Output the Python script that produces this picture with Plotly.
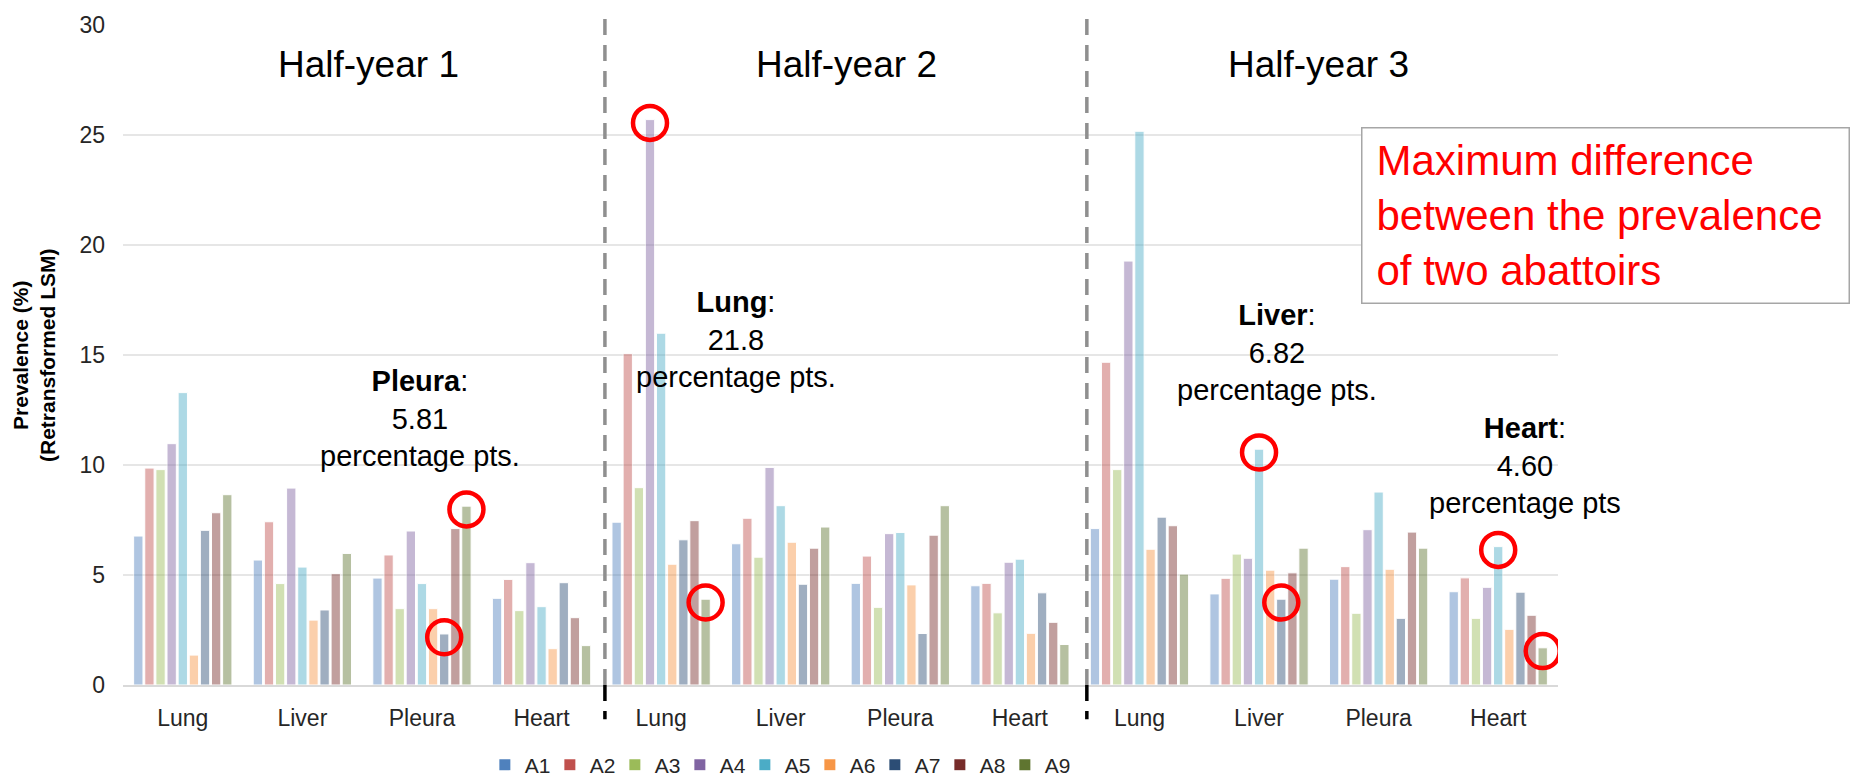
import plotly.graph_objects as go

# ---- data -------------------------------------------------------------
organs = ["Lung", "Liver", "Pleura", "Heart"]
half_years = ["Half-year 1", "Half-year 2", "Half-year 3"]
abattoirs = ["A1", "A2", "A3", "A4", "A5", "A6", "A7", "A8", "A9"]

# Prevalence (%) per abattoir; order: HY1 Lung, Liver, Pleura, Heart, HY2 ..., HY3 ...
A1 = [6.77, 5.68, 4.86, 3.94, 7.40, 6.42, 4.62, 4.51, 7.11, 4.14, 4.81, 4.24]
A2 = [9.86, 7.42, 5.91, 4.80, 15.06, 7.58, 5.86, 4.62, 14.67, 4.85, 5.38, 4.87]
A3 = [9.79, 4.61, 3.47, 3.38, 8.97, 5.81, 3.53, 3.28, 9.79, 5.95, 3.26, 3.03]
A4 = [10.97, 8.95, 7.00, 5.56, 25.70, 9.89, 6.88, 5.58, 19.27, 5.76, 7.06, 4.44]
A5 = [13.29, 5.36, 4.61, 3.56, 15.99, 8.15, 6.93, 5.72, 25.17, 10.72, 8.77, 6.29]
A6 = [1.36, 2.95, 3.47, 1.65, 5.49, 6.49, 4.55, 2.35, 6.17, 5.22, 5.26, 2.53]
A7 = [7.03, 3.41, 2.32, 4.65, 6.60, 4.58, 2.34, 4.19, 7.63, 3.90, 3.03, 4.22]
A8 = [7.83, 5.06, 7.11, 3.06, 7.47, 6.22, 6.81, 2.85, 7.24, 5.10, 6.95, 3.17]
A9 = [8.65, 5.98, 8.13, 1.79, 3.90, 7.18, 8.15, 1.84, 5.04, 6.22, 6.22, 1.69]
series = [A1, A2, A3, A4, A5, A6, A7, A8, A9]

# groups whose max-min spread is highlighted, with label placement
highlight_groups = [2, 4, 9, 11]
highlight_labels = ["percentage pts.", "percentage pts.", "percentage pts.", "percentage pts"]
highlight_pos = [(1.98, 12.1), (4.63, 15.7), (9.15, 15.1), (11.22, 10.0)]

colors = ["#4F81BD", "#C0504D", "#9BBB59", "#8064A2", "#4BACC6",
          "#F79646", "#2C4D75", "#772C2A", "#5F7530"]

FONT = "Liberation Sans, Arial, sans-serif"
n_cat = len(half_years) * len(organs)
slot = 0.093
bar_w = 0.078

fig = go.Figure()

def xpos(c, k):
    return c + (k - (len(abattoirs) - 1) / 2) * slot

for k, (name, vals) in enumerate(zip(abattoirs, series)):
    fig.add_trace(go.Bar(
        x=[xpos(c, k) for c in range(n_cat)], y=vals, width=bar_w,
        marker=dict(color=colors[k], opacity=0.45,
                    line=dict(color="white", width=1)),
        name=name, showlegend=False, hoverinfo="y+name"))

# legend entries in full colour
for k, name in enumerate(abattoirs):
    fig.add_trace(go.Scatter(
        x=[None], y=[None], mode="markers", name=name,
        marker=dict(symbol="square", size=11, color=colors[k])))

# red rings around the highest and lowest bar of each highlighted group
ring_x, ring_y = [], []
annotations = []
for g, label, (ax_, ay_) in zip(highlight_groups, highlight_labels, highlight_pos):
    vals = [s[g] for s in series]
    hi = max(range(len(vals)), key=lambda i: vals[i])
    lo = min(range(len(vals)), key=lambda i: vals[i])
    for k in (hi, lo):
        ring_x.append(xpos(g, k))
        ring_y.append(vals[k] - 0.15)
    diff = vals[hi] - vals[lo]
    dtxt = f"{diff:.1f}" if diff >= 10 else f"{diff:.2f}"
    organ = organs[g % len(organs)]
    annotations.append(dict(
        x=ax_, y=ay_, xref="x", yref="y", showarrow=False,
        text=f"<b>{organ}</b>:<br>{dtxt}<br>{label}",
        font=dict(family=FONT, size=29, color="#000000"), align="center"))

fig.add_trace(go.Scatter(
    x=ring_x, y=ring_y, mode="markers", showlegend=False, hoverinfo="skip",
    marker=dict(symbol="circle-open", size=34, color="#FF0000",
                line=dict(width=4.5, color="#FF0000"))))

# half-year headers
for h, (title, cx) in enumerate(zip(half_years, [1.55, 5.55, 9.5])):
    annotations.append(dict(
        x=cx, y=28.2, xref="x", yref="y", showarrow=False, text=title,
        font=dict(family=FONT, size=37, color="#000000")))

# y-axis title
annotations.append(dict(
    x=-0.062, y=0.5, xref="paper", yref="paper", showarrow=False,
    textangle=-90, xanchor="center", yanchor="middle",
    text="<b>Prevalence (%)</b><br><b>(Retransformed LSM)</b>",
    font=dict(family=FONT, size=21, color="#000000")))

# explanatory box
annotations.append(dict(
    x=0.8627, y=0.845, xref="paper", yref="paper", showarrow=False,
    xanchor="left", yanchor="top", align="left", valign="middle",
    width=458, height=146,
    text="Maximum difference<br>between the prevalence<br>of two abattoirs",
    font=dict(family=FONT, size=42, color="#FF0000"),
    bgcolor="white", bordercolor="#A6A6A6", borderwidth=1.5, borderpad=14))

# separators between half-years
shapes = []
for sx in [3.53, 7.56]:
    shapes.append(dict(type="line", xref="x", yref="paper", x0=sx, x1=sx,
                       y0=0, y1=1.017,
                       line=dict(color="#8F8F8F", width=3.5, dash="16px,10px")))
    shapes.append(dict(type="line", xref="x", yref="paper", x0=sx, x1=sx,
                       y0=0, y1=-0.052,
                       line=dict(color="#000000", width=3.5, dash="16px,10px")))

fig.update_layout(
    width=1858, height=777,
    margin=dict(l=123, r=300, t=25, b=92),
    paper_bgcolor="white", plot_bgcolor="white",
    barmode="overlay",
    font=dict(family=FONT, color="#262626"),
    annotations=annotations, shapes=shapes,
    legend=dict(orientation="h", xref="paper", x=0.456, xanchor="center",
                yref="container", y=0.0154, yanchor="middle",
                font=dict(family=FONT, size=21, color="#262626"),
                itemwidth=30, tracegroupgap=0,
                entrywidth=20, entrywidthmode="pixels"),
)
fig.update_xaxes(
    range=[-0.5, n_cat - 0.5],
    tickmode="array", tickvals=list(range(n_cat)),
    ticktext=[organs[c % len(organs)] for c in range(n_cat)],
    tickfont=dict(family=FONT, size=23, color="#262626"),
    showgrid=False, zeroline=False, showline=True, linecolor="#D9D9D9",
    linewidth=1.5, ticks="", ticklabelstandoff=12)
fig.update_yaxes(
    range=[0, 30], tickmode="linear", tick0=0, dtick=5,
    tickfont=dict(family=FONT, size=23, color="#262626"),
    showgrid=True, gridcolor="#E6E6E6", gridwidth=1.5,
    zeroline=False, showline=False, ticks="", ticklabelstandoff=17)

fig.write_html("out.html")
